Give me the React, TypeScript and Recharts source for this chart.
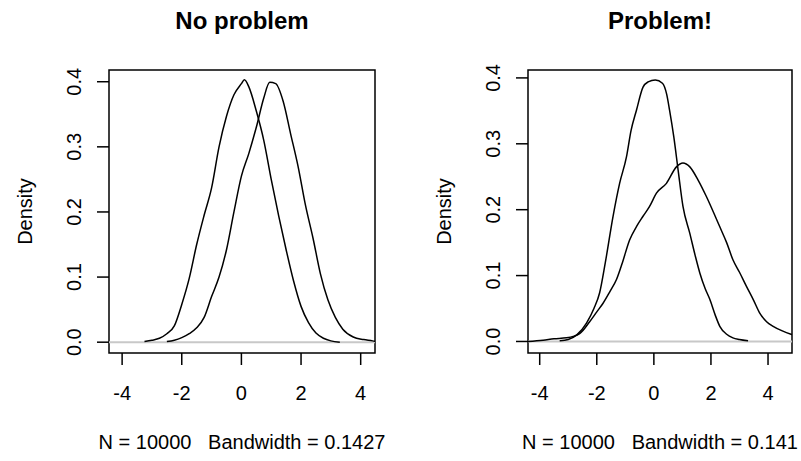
import React from 'react'
import {
  LineChart,
  Line,
  XAxis,
  YAxis,
  ReferenceLine,
  ReferenceArea
} from 'recharts'

const FONT = '"Liberation Sans", Arial, Helvetica, sans-serif'

// tick labels
const xTicks = [-4, -2, 0, 2, 4]
const yTicks = [0, 0.1, 0.2, 0.3, 0.4]

// "No problem" panel: two densities with the same spread
const noProbAx = [-3.25, -3, -2.75, -2.5, -2.25, -2, -1.75, -1.5, -1.25, -1, -0.75, -0.5, -0.25, 0, 0.1, 0.25, 0.5, 0.75, 1, 1.25, 1.5, 1.75, 2, 2.25, 2.5, 2.75, 3, 3.3]
const noProbAy = [0.001, 0.003, 0.006, 0.013, 0.025, 0.058, 0.098, 0.15, 0.195, 0.237, 0.3, 0.347, 0.38, 0.397, 0.403, 0.392, 0.355, 0.31, 0.25, 0.194, 0.142, 0.094, 0.055, 0.03, 0.014, 0.006, 0.002, 0.0]
const noProbBx = [-2.5, -2.25, -2, -1.75, -1.5, -1.25, -1, -0.75, -0.5, -0.25, 0, 0.25, 0.5, 0.75, 0.95, 1.15, 1.4, 1.65, 1.9, 2.15, 2.4, 2.65, 2.9, 3.15, 3.4, 3.75, 4.1, 4.4, 4.6]
const noProbBy = [0.001, 0.003, 0.007, 0.013, 0.022, 0.038, 0.07, 0.1, 0.142, 0.2, 0.255, 0.29, 0.33, 0.375, 0.399, 0.397, 0.37, 0.32, 0.27, 0.21, 0.16, 0.105, 0.065, 0.038, 0.02, 0.008, 0.004, 0.002, 0.0]

// "Problem!" panel: narrow density vs. wide one
const probAx = [-3.3, -3, -2.7, -2.36, -2.1, -1.9, -1.7, -1.43, -1.2, -0.96, -0.8, -0.61, -0.38, -0.2, 0.05, 0.3, 0.45, 0.55, 0.7, 0.85, 1.02, 1.26, 1.45, 1.61, 1.8, 1.96, 2.15, 2.31, 2.55, 2.77, 3.0, 3.3]
const probAy = [0.001, 0.003, 0.01, 0.028, 0.05, 0.074, 0.12, 0.19, 0.24, 0.28, 0.32, 0.351, 0.386, 0.394, 0.397, 0.392, 0.375, 0.351, 0.31, 0.26, 0.205, 0.164, 0.13, 0.104, 0.08, 0.064, 0.04, 0.023, 0.011, 0.0055, 0.003, 0.001]
const probBx = [-4.45, -3.88, -3.5, -3.06, -2.6, -2.25, -2.0, -1.78, -1.55, -1.31, -1.1, -0.85, -0.6, -0.38, -0.15, 0.09, 0.44, 0.79, 1.02, 1.26, 1.55, 1.84, 2.1, 2.31, 2.55, 2.77, 3.0, 3.24, 3.5, 3.71, 3.95, 4.18, 4.5, 4.83, 5.1]
const probBy = [0.0, 0.002, 0.004, 0.0055, 0.012, 0.03, 0.045, 0.058, 0.075, 0.094, 0.12, 0.154, 0.175, 0.19, 0.205, 0.225, 0.24, 0.265, 0.271, 0.265, 0.245, 0.22, 0.195, 0.174, 0.15, 0.124, 0.105, 0.084, 0.062, 0.043, 0.03, 0.023, 0.016, 0.0106, 0.007]

const toPoints = (xs: number[], ys: number[]) => xs.map((x, i) => ({ x, y: ys[i] }))

const XTick = ({ x, y, payload }: any) => (
  <text x={x} y={y} dy="0.35em" textAnchor="middle" fontSize={20} fontFamily={FONT} fill="#000">
    {payload.value}
  </text>
)

const YTick = ({ x, y, payload }: any) => (
  <text
    x={x}
    y={y}
    dy="0.35em"
    textAnchor="middle"
    transform={`rotate(-90, ${x}, ${y})`}
    fontSize={20}
    fontFamily={FONT}
    fill="#000"
  >
    {Number(payload.value).toFixed(1)}
  </text>
)

interface PanelProps {
  left: number
  width: number
  boxLeft: number
  boxRight: number
  xDomain: [number, number]
  yDomain: [number, number]
  a: { x: number; y: number }[]
  b: { x: number; y: number }[]
  title: string
  sub: string
}

const H = 461
const BOX_TOP = 70
const BOX_BOTTOM = 353
const Y_AXIS_W = 50
const X_AXIS_H = 60

const Panel: React.FC<PanelProps> = ({ left, width, boxLeft, boxRight, xDomain, yDomain, a, b, title, sub }) => {
  const margin = {
    top: BOX_TOP,
    left: boxLeft - Y_AXIS_W,
    right: width - boxRight,
    bottom: H - BOX_BOTTOM - X_AXIS_H
  }
  return (
    <div style={{ position: 'absolute', left, top: 0 }}>
      <LineChart width={width} height={H} margin={margin}>
        <XAxis
          type="number"
          dataKey="x"
          domain={xDomain}
          ticks={xTicks}
          allowDataOverflow
          height={X_AXIS_H}
          axisLine={false}
          tickSize={12}
          tickMargin={28}
          tickLine={{ stroke: '#000', strokeWidth: 1.5 }}
          tick={<XTick />}
          label={{
            content: ({ viewBox }: any) => (
              <text
                x={viewBox.x + viewBox.width / 2}
                y={442}
                dy="0.35em"
                textAnchor="middle"
                fontSize={20}
                fontFamily={FONT}
                fill="#000"
                style={{ whiteSpace: 'pre' }}
              >
                {sub}
              </text>
            )
          }}
        />
        <YAxis
          type="number"
          dataKey="y"
          domain={yDomain}
          ticks={yTicks}
          allowDataOverflow
          width={Y_AXIS_W}
          axisLine={false}
          tickSize={12}
          tickMargin={23}
          tickLine={{ stroke: '#000', strokeWidth: 1.5 }}
          tick={<YTick />}
          label={{
            content: ({ viewBox }: any) => {
              const cx = viewBox.x + viewBox.width - 84
              const cy = viewBox.y + viewBox.height / 2
              return (
                <text
                  x={cx}
                  y={cy}
                  dy="0.35em"
                  textAnchor="middle"
                  transform={`rotate(-90, ${cx}, ${cy})`}
                  fontSize={20}
                  fontFamily={FONT}
                  fill="#000"
                >
                  Density
                </text>
              )
            }
          }}
        />
        <ReferenceLine y={0} stroke="#c8c8c8" strokeWidth={2} ifOverflow="visible" />
        <ReferenceArea
          x1={xDomain[0]}
          x2={xDomain[1]}
          y1={yDomain[0]}
          y2={yDomain[1]}
          ifOverflow="visible"
          fill="none"
          fillOpacity={0}
          stroke="#000"
          strokeWidth={1.5}
          label={{
            content: ({ viewBox }: any) => (
              <text
                x={viewBox.x + viewBox.width / 2}
                y={21}
                dy="0.35em"
                textAnchor="middle"
                fontSize={24}
                fontWeight="bold"
                fontFamily={FONT}
                fill="#000"
              >
                {title}
              </text>
            )
          }}
        />
        <Line data={a} dataKey="y" type="monotone" stroke="#000" strokeWidth={1.5} dot={false} isAnimationActive={false} />
        <Line data={b} dataKey="y" type="monotone" stroke="#000" strokeWidth={1.5} dot={false} isAnimationActive={false} />
      </LineChart>
    </div>
  )
}

export default function App() {
  return (
    <div style={{ position: 'absolute', left: 0, top: 0, width: 801, height: H, background: '#fff' }}>
      <Panel
        left={0}
        width={400}
        boxLeft={109}
        boxRight={375}
        xDomain={[-4.44, 4.48]}
        yDomain={[-0.0166, 0.418]}
        a={toPoints(noProbAx, noProbAy)}
        b={toPoints(noProbBx, noProbBy)}
        title="No problem"
        sub="N = 10000   Bandwidth = 0.1427"
      />
      <Panel
        left={400}
        width={401}
        boxLeft={128}
        boxRight={392}
        xDomain={[-4.41, 4.84]}
        yDomain={[-0.0175, 0.412]}
        a={toPoints(probAx, probAy)}
        b={toPoints(probBx, probBy)}
        title="Problem!"
        sub="N = 10000   Bandwidth = 0.141"
      />
    </div>
  )
}
